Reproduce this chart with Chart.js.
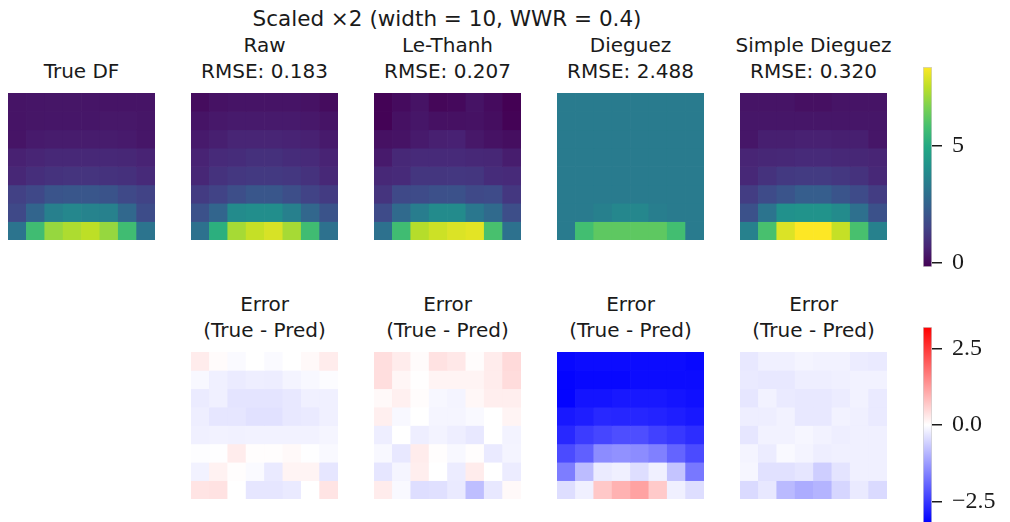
<!DOCTYPE html>
<html>
<head>
<meta charset="utf-8">
<script src="https://cdn.jsdelivr.net/npm/chart.js@4.4.1/dist/chart.umd.min.js"></script>
<style>
  html, body { margin: 0; padding: 0; background: #fff; overflow: hidden; }
  body { width: 1010px; height: 522px; position: relative; }
  canvas { position: absolute; }
  .t { position: absolute; transform: translate(-50%, -50%); white-space: nowrap;
       font-family: 'DejaVu Sans', sans-serif; font-size: 20px; color: #1a1a1a; line-height: 1; }
  .sup { font-size: 21.5px; }
</style>
</head>
<body>
<script>
// ---- data -------------------------------------------------------------
const suptitle = 'Scaled \u00d72 (width = 10, WWR = 0.4)';
const methodNames = ['Raw', 'Le-Thanh', 'Dieguez', 'Simple Dieguez'];
const rmseValues = ['0.183', '0.207', '2.488', '0.320'];
const dfTicks = [0, 5];
const errTicks = [-2.5, 0, 2.5];

// daylight factor, 8 x 8 grid (row 0 = far side, row 7 = window side)
const trueDF = [
  [0.30, 0.32, 0.33, 0.33, 0.32, 0.30, 0.30, 0.30],
  [0.30, 0.33, 0.35, 0.35, 0.35, 0.38, 0.38, 0.33],
  [0.30, 0.45, 0.48, 0.48, 0.48, 0.48, 0.45, 0.35],
  [0.60, 0.70, 0.80, 0.80, 0.80, 0.80, 0.75, 0.65],
  [0.75, 0.95, 1.05, 1.10, 1.10, 1.05, 1.00, 0.85],
  [1.45, 1.65, 2.05, 2.10, 2.10, 2.00, 1.70, 1.50],
  [1.70, 2.60, 3.50, 3.75, 3.60, 3.55, 2.70, 1.80],
  [3.10, 5.70, 7.00, 7.30, 7.50, 7.00, 5.70, 3.10]
];
const rawPred = [
  [0.10, 0.25, 0.30, 0.30, 0.30, 0.30, 0.25, 0.10],
  [0.30, 0.40, 0.45, 0.45, 0.45, 0.45, 0.40, 0.30],
  [0.45, 0.55, 0.70, 0.70, 0.70, 0.65, 0.60, 0.45],
  [0.65, 0.85, 0.90, 1.00, 1.00, 0.90, 0.85, 0.65],
  [0.75, 1.05, 1.20, 1.25, 1.25, 1.20, 1.05, 0.80],
  [1.30, 1.50, 1.85, 2.10, 2.10, 1.85, 1.50, 1.30],
  [1.95, 2.60, 3.90, 4.00, 4.00, 3.50, 2.65, 2.00],
  [3.00, 5.20, 7.20, 7.60, 7.85, 7.20, 5.70, 3.00]
];
const leThanhPred = [
  [-0.11, 0.08, 0.28, -0.03, 0.03, 0.26, 0.08, -0.16],
  [-0.11, 0.22, 0.34, 0.21, 0.21, 0.24, 0.14, -0.11],
  [0.22, 0.26, 0.44, 0.58, 0.62, 0.38, 0.24, 0.14],
  [0.45, 0.80, 0.85, 0.85, 0.85, 0.80, 0.75, 0.50],
  [0.80, 0.85, 1.15, 1.15, 1.20, 1.15, 0.90, 0.85],
  [1.10, 1.70, 1.75, 1.90, 1.95, 1.70, 1.75, 1.20],
  [1.75, 2.75, 3.40, 3.90, 3.90, 3.20, 2.75, 1.85],
  [3.00, 5.70, 7.40, 7.70, 7.90, 8.00, 5.85, 3.00]
];
const dieguezPred = [
  [3.35, 3.35, 3.35, 3.35, 3.35, 3.35, 3.35, 3.35],
  [3.35, 3.35, 3.35, 3.35, 3.35, 3.35, 3.35, 3.35],
  [3.35, 3.35, 3.35, 3.35, 3.35, 3.35, 3.35, 3.35],
  [3.35, 3.35, 3.35, 3.35, 3.35, 3.35, 3.35, 3.35],
  [3.35, 3.35, 3.35, 3.35, 3.35, 3.35, 3.35, 3.35],
  [3.35, 3.35, 3.35, 3.35, 3.35, 3.35, 3.35, 3.35],
  [3.35, 3.35, 3.50, 3.75, 3.75, 3.45, 3.35, 3.35],
  [3.35, 5.75, 6.20, 6.20, 6.20, 6.20, 5.75, 3.35]
];
const simpleDieguezPred = [
  [0.30, 0.30, 0.30, 0.20, 0.20, 0.30, 0.30, 0.30],
  [0.35, 0.35, 0.35, 0.35, 0.35, 0.35, 0.35, 0.35],
  [0.35, 0.55, 0.55, 0.60, 0.60, 0.55, 0.55, 0.35],
  [0.70, 0.75, 0.80, 0.85, 0.85, 0.80, 0.75, 0.70],
  [0.80, 1.05, 1.25, 1.30, 1.30, 1.20, 1.05, 0.80],
  [1.35, 1.75, 2.05, 2.35, 2.35, 2.05, 1.75, 1.35],
  [1.95, 3.10, 4.10, 4.15, 4.15, 3.90, 2.95, 1.95],
  [3.55, 5.85, 7.90, 8.35, 8.35, 7.60, 5.85, 3.55]
];

// errors (true - predicted)
const rawError = [
  [0.24, 0.05, -0.06, 0.00, -0.06, 0.00, 0.08, 0.24],
  [-0.09, -0.19, -0.25, -0.21, -0.23, -0.14, -0.09, -0.04],
  [-0.25, -0.19, -0.34, -0.34, -0.34, -0.29, -0.19, -0.19],
  [-0.21, -0.31, -0.31, -0.38, -0.38, -0.29, -0.26, -0.19],
  [-0.19, -0.16, -0.17, -0.16, -0.16, -0.16, -0.16, -0.13],
  [-0.03, -0.01, 0.24, 0.03, 0.03, 0.08, -0.01, -0.08],
  [-0.16, 0.16, 0.03, -0.06, -0.26, 0.14, 0.14, -0.31],
  [0.34, 0.36, 0.00, -0.31, -0.31, -0.26, 0.00, 0.34]
];
const leThanhError = [
  [0.41, 0.24, 0.05, 0.36, 0.29, 0.04, 0.24, 0.46],
  [0.41, 0.11, 0.01, 0.14, 0.14, 0.14, 0.24, 0.44],
  [0.08, 0.19, 0.04, -0.10, -0.14, 0.10, 0.21, 0.21],
  [0.20, -0.09, 0.00, -0.13, -0.13, -0.07, 0.00, 0.14],
  [-0.21, 0.00, -0.21, -0.15, -0.21, -0.29, 0.00, -0.15],
  [-0.09, -0.29, 0.24, 0.03, -0.09, 0.03, -0.26, -0.14],
  [-0.32, -0.13, 0.21, 0.00, -0.24, 0.24, 0.00, -0.24],
  [0.24, -0.08, -0.41, -0.39, -0.26, -0.82, -0.29, 0.08]
];
const dieguezError = [
  [-3.10, -3.05, -3.05, -3.05, -3.05, -3.05, -3.05, -3.10],
  [-3.15, -3.10, -3.10, -3.10, -3.05, -3.05, -3.05, -3.05],
  [-3.15, -2.95, -2.95, -2.90, -2.90, -2.90, -2.95, -3.00],
  [-2.90, -2.82, -2.70, -2.72, -2.72, -2.76, -2.82, -2.90],
  [-2.70, -2.45, -2.32, -2.22, -2.22, -2.38, -2.50, -2.64],
  [-2.26, -2.00, -1.44, -1.38, -1.44, -1.60, -1.95, -2.26],
  [-1.63, -0.84, -0.25, -0.19, -0.41, -0.19, -0.74, -1.70],
  [-0.41, -0.19, 0.69, 0.97, 1.17, 0.66, -0.19, -0.41]
];
const simpleDieguezError = [
  [-0.29, -0.19, -0.19, -0.14, -0.16, -0.16, -0.24, -0.26],
  [-0.26, -0.29, -0.29, -0.21, -0.21, -0.19, -0.16, -0.16],
  [-0.31, -0.16, -0.26, -0.29, -0.29, -0.24, -0.16, -0.26],
  [-0.21, -0.21, -0.16, -0.29, -0.29, -0.16, -0.19, -0.26],
  [-0.31, -0.16, -0.16, -0.11, -0.16, -0.21, -0.19, -0.19],
  [-0.14, -0.24, -0.08, -0.14, -0.21, -0.19, -0.19, -0.19],
  [-0.11, -0.38, -0.38, -0.31, -0.62, -0.34, -0.19, -0.19],
  [-0.46, -0.29, -0.87, -1.04, -0.94, -0.51, -0.26, -0.46]
];

// ---- colour maps --------------------------------------------------------
const DF_MIN = -0.17, DF_MAX = 8.35;
const ERR_MIN = -3.2, ERR_MAX = 3.2;

const VIRIDIS = [
  [68, 1, 84], [72, 36, 117], [65, 68, 135], [53, 95, 141], [42, 120, 142],
  [33, 145, 140], [34, 168, 132], [68, 191, 112], [122, 209, 81], [189, 223, 38], [253, 231, 37]
];
const BWR = [[0, 0, 255], [255, 255, 255], [255, 0, 0]];

function sample(stops, t) {
  t = Math.min(1, Math.max(0, t));
  const p = t * (stops.length - 1);
  const i = Math.min(stops.length - 2, Math.floor(p));
  const f = p - i;
  const a = stops[i], b = stops[i + 1];
  const c = a.map((v, k) => Math.round(v + (b[k] - v) * f));
  return `rgb(${c[0]},${c[1]},${c[2]})`;
}
const dfColor = v => sample(VIRIDIS, (v - DF_MIN) / (DF_MAX - DF_MIN));
const errColor = v => sample(BWR, (v - ERR_MIN) / (ERR_MAX - ERR_MIN));

// ---- layout helpers -----------------------------------------------------
const PANEL = 147;
const panelX = [8, 191, 374, 557, 740];
const TOP_Y = 93, BOTTOM_Y = 352;

function makeCanvas(x, y, w, h) {
  const c = document.createElement('canvas');
  c.width = w; c.height = h;
  c.style.left = x + 'px'; c.style.top = y + 'px';
  c.style.width = w + 'px'; c.style.height = h + 'px';
  document.body.appendChild(c);
  return c;
}
function addText(str, x, y, extra) {
  const d = document.createElement('div');
  d.className = 't' + (extra ? ' ' + extra : '');
  d.textContent = str;
  d.style.left = x + 'px'; d.style.top = y + 'px';
  document.body.appendChild(d);
}

// heat map: one floating-bar dataset per grid row
function heatmap(x, y, matrix, colorFn) {
  const rows = matrix.length;
  const labels = matrix[0].map((_, c) => String(c));
  const datasets = matrix.map((row, r) => ({
    data: row.map(() => [r, r + 1]),
    backgroundColor: row.map(colorFn),
    borderWidth: 0,
    grouped: false,
    barPercentage: 1,
    categoryPercentage: 1
  }));
  new Chart(makeCanvas(x, y, PANEL, PANEL), {
    type: 'bar',
    data: { labels, datasets },
    options: {
      responsive: false, animation: false, devicePixelRatio: 1,
      layout: { padding: 0 },
      plugins: { legend: { display: false }, tooltip: { enabled: false } },
      scales: {
        x: { display: false },
        y: { display: false, reverse: true, min: 0, max: rows }
      }
    }
  });
}

// vertical colour bar with ticks on the right
function colorbar(x, top, height, vmin, vmax, stops, ticks, fmt) {
  const pad = 20, axisW = 80, barW = 9;
  new Chart(makeCanvas(x, top - pad, barW + axisW, height + 2 * pad), {
    type: 'bar',
    data: {
      labels: [''],
      datasets: [{
        data: [[vmin, vmax]],
        backgroundColor: (ctx) => {
          const chart = ctx.chart;
          if (!chart.chartArea) return null;
          const ys = chart.scales.y;
          const g = chart.ctx.createLinearGradient(0, ys.getPixelForValue(vmin), 0, ys.getPixelForValue(vmax));
          stops.forEach((c, i) => g.addColorStop(i / (stops.length - 1), `rgb(${c[0]},${c[1]},${c[2]})`));
          return g;
        },
        borderColor: '#cfcfcf',
        borderWidth: 1,
        borderSkipped: false,
        barPercentage: 1,
        categoryPercentage: 1
      }]
    },
    options: {
      responsive: false, animation: false, devicePixelRatio: 1,
      layout: { padding: { top: pad, bottom: pad, left: 0, right: 0 } },
      plugins: { legend: { display: false }, tooltip: { enabled: false } },
      scales: {
        x: { display: false },
        y: {
          position: 'right', min: vmin, max: vmax,
          border: { display: false },
          grid: { drawOnChartArea: false, drawTicks: true, tickLength: 10, color: '#1a1a1a', lineWidth: 1.5 },
          ticks: {
            padding: 10, color: '#1a1a1a',
            font: { family: "'Liberation Serif', serif", size: 24 },
            callback: (v) => fmt(v)
          },
          afterBuildTicks: (scale) => { scale.ticks = ticks.map(v => ({ value: v })); },
          afterFit: (scale) => {
            scale.width = axisW;
            scale.paddingTop = 0;
            scale.paddingBottom = 0;
          }
        }
      }
    }
  });
}

// ---- draw ---------------------------------------------------------------
const preds = [rawPred, leThanhPred, dieguezPred, simpleDieguezPred];
const errors = [rawError, leThanhError, dieguezError, simpleDieguezError];

addText(suptitle, 447, 19, 'sup');
addText('True DF', panelX[0] + PANEL / 2, 71);
heatmap(panelX[0], TOP_Y, trueDF, dfColor);

methodNames.forEach((name, i) => {
  const cx = panelX[i + 1] + PANEL / 2;
  addText(name, cx, 45);
  addText('RMSE: ' + rmseValues[i], cx, 71);
  heatmap(panelX[i + 1], TOP_Y, preds[i], dfColor);
  addText('Error', cx, 304);
  addText('(True - Pred)', cx, 330);
  heatmap(panelX[i + 1], BOTTOM_Y, errors[i], errColor);
});

colorbar(923, 67, 200, DF_MIN, DF_MAX, VIRIDIS, dfTicks, v => String(v));
colorbar(923, 327, 196, ERR_MIN, ERR_MAX, BWR, errTicks,
  v => (v < 0 ? '\u2212' : '') + Math.abs(v).toFixed(1));
</script>
</body>
</html>
